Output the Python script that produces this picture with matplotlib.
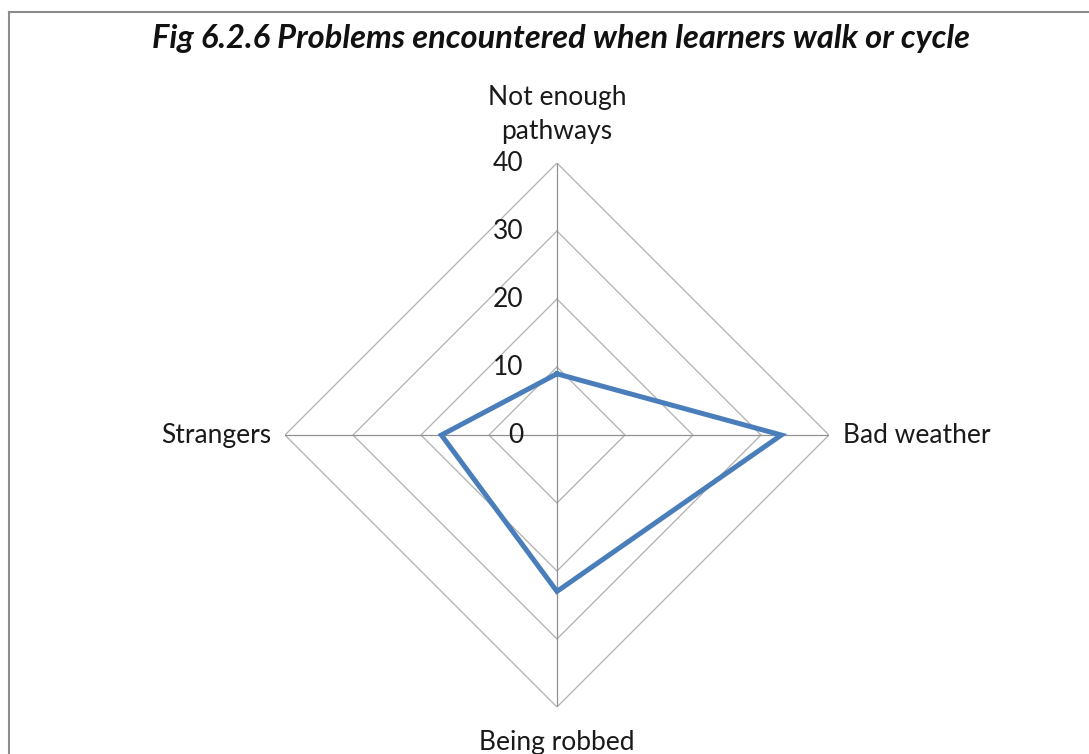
import numpy as np
from matplotlib import pyplot as plt
from matplotlib.lines import Line2D

# chart data
categories = ['Not enough\npathways', 'Bad weather', 'Being robbed', 'Strangers']
values = [9, 33, 23, 17]
rings = [10, 20, 30, 40]
tick_labels = ['0', '10', '20', '30', '40']
title = 'Fig 6.2.6 Problems encountered when learners walk or cycle'

plt.rcParams['font.family'] = ['Lato', 'DejaVu Sans']

fig = plt.figure(figsize=(10.89, 7.54), dpi=100)
ax = fig.add_axes([0.2617, 0.0623, 0.4995, 0.7215], projection='polar')
ax.set_theta_zero_location('N')
ax.set_theta_direction(-1)
ax.set_ylim(0, 40)
ax.grid(False)
ax.spines['polar'].set_visible(False)
ax.set_xticks([])
ax.set_yticks([])
ax.patch.set_alpha(0)

angles = np.linspace(0, 2 * np.pi, len(categories), endpoint=False)
closed = np.append(angles, angles[0])

# diamond gridlines
for r in rings:
    ax.plot(closed, [r] * len(closed), color='#b0b0b0', lw=0.9, zorder=1)
for a in angles:
    ax.plot([a, a], [0, rings[-1]], color='#909090', lw=0.9, zorder=1)

# data polygon
ax.plot(closed, values + values[:1], color='#4a7ebb', lw=3.6, zorder=3,
        solid_joinstyle='miter')

# axis value labels along top spoke
for i, lab in enumerate(tick_labels):
    ax.annotate(lab, xy=(0, i * 10), xytext=(-24, 0), textcoords='offset points',
                ha='right', va='center', fontsize=19, color='#1a1a1a')

# category labels
offsets = [(0, 14), (10, 0), (0, -16.5), (-9.5, 0)]
aligns = [('center', 'bottom'), ('left', 'center'), ('center', 'top'), ('right', 'center')]
for a, lab, off, (ha, va) in zip(angles, categories, offsets, aligns):
    ax.annotate(lab, xy=(a, rings[-1]), xytext=off, textcoords='offset points',
                ha=ha, va=va, fontsize=19, color='#1a1a1a', linespacing=1.45,
                annotation_clip=False)

fig.text(0.515, 0.9496, title, ha='center', va='center', fontsize=23.5,
         fontweight='bold', fontstyle='italic', color='#111111')

# chart frame
fig.add_artist(Line2D([9 / 1089, 1], [1 - 12 / 754] * 2, color='#8c8c8c', lw=1.5))
fig.add_artist(Line2D([9 / 1089] * 2, [0, 1 - 12 / 754], color='#8c8c8c', lw=1.5))

fig.savefig('out.png', dpi=100)
